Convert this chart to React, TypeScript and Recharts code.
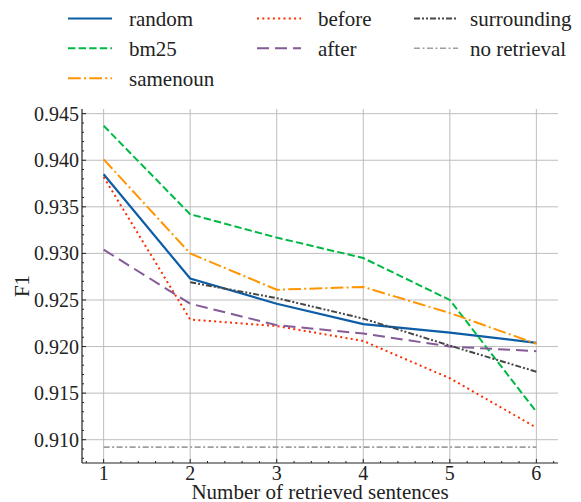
import React from 'react';
import { LineChart, Line, XAxis, YAxis, ReferenceLine, Legend, Label } from 'recharts';

const xValues = [1, 2, 3, 4, 5, 6];
const randomF1 = [0.9385, 0.9273, 0.9246, 0.9224, 0.9215, 0.9204];
const bm25F1 = [0.9437, 0.9342, 0.9317, 0.9295, 0.925, 0.913];
const samenounF1 = [0.9401, 0.93, 0.9261, 0.9264, 0.9236, 0.9203];
const beforeF1 = [0.9382, 0.9229, 0.9222, 0.9206, 0.9166, 0.9113];
const afterF1 = [0.9304, 0.9246, 0.9223, 0.9214, 0.92, 0.9195];
const surroundingF1 = [null, 0.9269, 0.9252, 0.923, 0.9201, 0.9173];
const noRetrievalF1 = [0.9092, 0.9092, 0.9092, 0.9092, 0.9092, 0.9092];

const xMajorTicks = [1, 2, 3, 4, 5, 6];
const xMinorTicks = [0.8, 1.2, 1.4, 1.6, 1.8, 2.2, 2.4, 2.6, 2.8, 3.2, 3.4, 3.6, 3.8, 4.2, 4.4, 4.6, 4.8, 5.2, 5.4, 5.6, 5.8, 6.2];
const yMajorTicks = [0.91, 0.915, 0.92, 0.925, 0.93, 0.935, 0.94, 0.945];
const yMinorTicks = [
  0.908, 0.909, 0.911, 0.912, 0.913, 0.914, 0.916, 0.917, 0.918, 0.919,
  0.921, 0.922, 0.923, 0.924, 0.926, 0.927, 0.928, 0.929, 0.931, 0.932,
  0.933, 0.934, 0.936, 0.937, 0.938, 0.939, 0.941, 0.942, 0.943, 0.944,
];

const X_DOMAIN = [0.75, 6.25];
const Y_DOMAIN = [0.9075, 0.9455];

const series = [
  { key: 'random', name: 'random', color: '#0C5DA5', dash: undefined, width: 2.2 },
  { key: 'bm25', name: 'bm25', color: '#00B945', dash: '7.4 3.2', width: 2 },
  { key: 'samenoun', name: 'samenoun', color: '#FF9500', dash: '12.8 3.2 2 3.2', width: 2 },
  { key: 'before', name: 'before', color: '#FF2C00', dash: '2 3.3', width: 2 },
  { key: 'after', name: 'after', color: '#845B97', dash: '12 6', width: 2 },
  { key: 'surrounding', name: 'surrounding', color: '#474747', dash: '6 2 2 2 2 2', width: 2 },
  { key: 'noRetrieval', name: 'no retrieval', color: '#9e9e9e', dash: '6 2.5 2 2.5', width: 1.6 },
];

const data = xValues.map((x, i) => ({
  x,
  random: randomF1[i],
  bm25: bm25F1[i],
  samenoun: samenounF1[i],
  before: beforeF1[i],
  after: afterF1[i],
  surrounding: surroundingF1[i],
  noRetrieval: noRetrievalF1[i],
}));

const FONT = "'Liberation Serif', 'DejaVu Serif', serif";
const INK = '#222';
const textStyle = { fontFamily: FONT };
const isMajor = (v: number, majors: number[]) => majors.some((m) => Math.abs(m - v) < 1e-9);
const xTicks = [...xMajorTicks, ...xMinorTicks].sort((a, b) => a - b);
const yTicks = [...yMajorTicks, ...yMinorTicks].sort((a, b) => a - b);

const BottomTick = (props: any) => {
  const { x, y, payload } = props;
  const major = isMajor(payload.value, xMajorTicks);
  return (
    <g>
      <line x1={x} x2={x} y1={y} y2={y - (major ? 4 : 2)} stroke={INK} strokeWidth={1} />
      {major && (
        <text x={x} y={y + 17} textAnchor="middle" fontSize={20} style={textStyle} fill={INK}>
          {payload.value}
        </text>
      )}
    </g>
  );
};

const TopTick = (props: any) => {
  const { x, y, payload } = props;
  const major = isMajor(payload.value, xMajorTicks);
  return <line x1={x} x2={x} y1={y} y2={y + (major ? 4 : 2)} stroke={INK} strokeWidth={1} />;
};

const LeftTick = (props: any) => {
  const { x, y, payload } = props;
  const major = isMajor(payload.value, yMajorTicks);
  return (
    <g>
      <line x1={x} x2={x + (major ? 4 : 2)} y1={y} y2={y} stroke={INK} strokeWidth={1} />
      {major && (
        <text x={x - 3} y={y + 7} textAnchor="end" fontSize={20} style={textStyle} fill={INK}>
          {Number(payload.value).toFixed(3)}
        </text>
      )}
    </g>
  );
};

const RightTick = (props: any) => {
  const { x, y, payload } = props;
  const major = isMajor(payload.value, yMajorTicks);
  return <line x1={x} x2={x - (major ? 4 : 2)} y1={y} y2={y} stroke={INK} strokeWidth={1} />;
};

// legend slot per series: [column, row]
const legendSlots = [
  [0, 0], [0, 1], [0, 2],
  [1, 0], [1, 1],
  [2, 0], [2, 1],
];
const legendColumns = [
  { line: 60, text: 121 },
  { line: 249, text: 310 },
  { line: 406, text: 462 },
];
const legendRows = [10.5, 40.3, 70.3];

const LegendContent = () => (
  <svg width={581} height={95} style={{ display: 'block' }}>
    {series.map((cfg, i) => {
      const [c, r] = legendSlots[i];
      const col = legendColumns[c];
      const y = legendRows[r];
      return (
        <g key={cfg.key}>
          <line
            x1={col.line}
            x2={col.line + 44}
            y1={y}
            y2={y}
            stroke={cfg.color}
            strokeWidth={cfg.width}
            strokeDasharray={cfg.dash}
          />
          <text x={col.text} y={y + 7.5} fontSize={21} style={textStyle} fill={INK}>
            {cfg.name}
          </text>
        </g>
      );
    })}
  </svg>
);

export default function App() {
  return (
    <LineChart
      width={581}
      height={502}
      data={data}
      margin={{ top: 101, right: 31, bottom: 17, left: 14 }}
    >
      <XAxis
        xAxisId="b"
        dataKey="x"
        type="number"
        domain={X_DOMAIN}
        ticks={xTicks}
        interval={0}
        tickLine={false}
        tickSize={0}
        tickMargin={0}
        tick={<BottomTick />}
        height={30}
        axisLine={{ stroke: INK, strokeWidth: 1.2 }}
      >
        <Label
          content={(p: any) => {
            const vb = p.viewBox || {};
            return (
              <text
                x={vb.x + vb.width / 2}
                y={vb.y + 36}
                textAnchor="middle"
                fontSize={21}
                style={textStyle}
                fill={INK}
              >
                Number of retrieved sentences
              </text>
            );
          }}
        />
      </XAxis>
      <XAxis
        xAxisId="t"
        dataKey="x"
        type="number"
        orientation="top"
        domain={X_DOMAIN}
        ticks={xTicks}
        interval={0}
        tickLine={false}
        tickSize={0}
        tickMargin={0}
        tick={<TopTick />}
        height={0}
        axisLine={{ stroke: INK, strokeWidth: 1.2 }}
      />
      <YAxis
        yAxisId="l"
        type="number"
        domain={Y_DOMAIN}
        ticks={yTicks}
        interval={0}
        tickLine={false}
        tickSize={0}
        tickMargin={0}
        tick={<LeftTick />}
        width={60}
        axisLine={{ stroke: INK, strokeWidth: 1.2 }}
      >
        <Label
          content={(p: any) => {
            const vb = p.viewBox || {};
            const cx = vb.x + vb.width - 60;
            const cy = vb.y + vb.height / 2;
            return (
              <text
                x={cx}
                y={cy}
                transform={`rotate(-90 ${cx} ${cy})`}
                textAnchor="middle"
                dominantBaseline="central"
                fontSize={21}
                style={textStyle}
                fill={INK}
              >
                F1
              </text>
            );
          }}
        />
      </YAxis>
      <YAxis
        yAxisId="r"
        type="number"
        orientation="right"
        domain={Y_DOMAIN}
        ticks={yTicks}
        interval={0}
        tickLine={false}
        tickSize={0}
        tickMargin={0}
        tick={<RightTick />}
        width={0}
        axisLine={{ stroke: INK, strokeWidth: 1.2 }}
      />
      {xMajorTicks.map((v) => (
        <ReferenceLine key={`gx${v}`} x={v} xAxisId="b" yAxisId="l" stroke="#bdbdbd" strokeWidth={1} />
      ))}
      {yMajorTicks.map((v) => (
        <ReferenceLine key={`gy${v}`} y={v} xAxisId="b" yAxisId="l" stroke="#bdbdbd" strokeWidth={1} />
      ))}
      <Legend
        verticalAlign="middle"
        layout="horizontal"
        wrapperStyle={{ position: 'absolute', top: 0, left: 0, width: 581, height: 95 }}
        content={<LegendContent />}
      />
      {series.map((s) => (
        <Line
          key={s.key}
          xAxisId="b"
          yAxisId="l"
          dataKey={s.key}
          name={s.name}
          stroke={s.color}
          strokeWidth={s.width}
          strokeDasharray={s.dash}
          dot={false}
          activeDot={false}
          isAnimationActive={false}
          legendType="line"
        />
      ))}
    </LineChart>
  );
}
